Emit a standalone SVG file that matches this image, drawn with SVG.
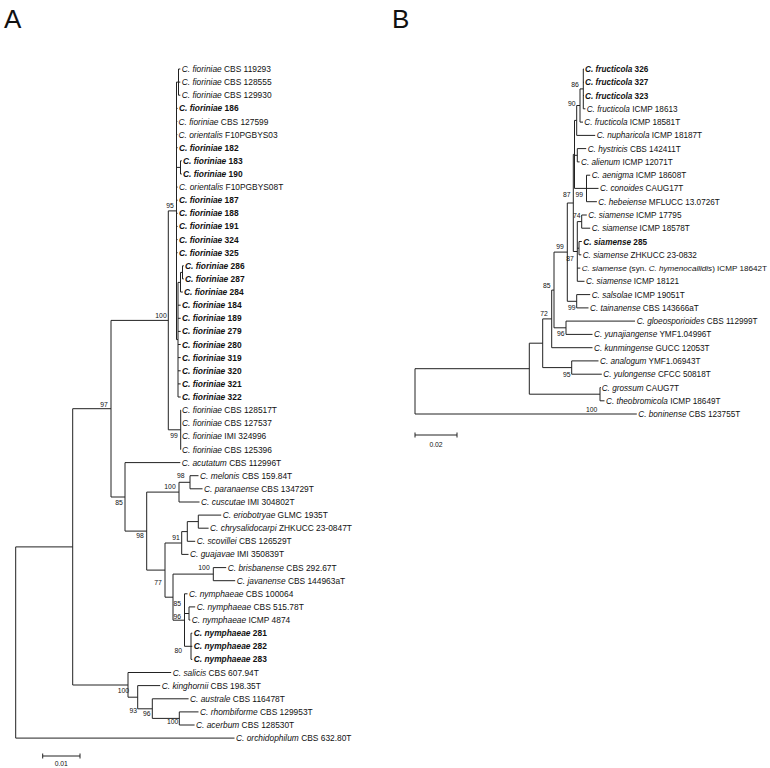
<svg xmlns="http://www.w3.org/2000/svg" width="770" height="768" viewBox="0 0 770 768">
<style>
.t{font-family:"Liberation Sans",Arial,sans-serif;font-size:8.4px;fill:#111}
#B-taxa .t{font-size:8.2px}
#B-taxa #b16 .t{font-size:8.1px}
.i{font-style:italic}
.b{font-weight:bold}
.s{font-family:"Liberation Sans",Arial,sans-serif;font-size:6.8px;fill:#111;text-anchor:middle}
.br{stroke:#222;stroke-width:1;fill:none}
.L{font-family:"Liberation Sans",Arial,sans-serif;font-size:26px;fill:#111}
</style>
<rect width="770" height="768" fill="#fff"/>
<text class="L" x="4" y="28">A</text>
<text class="L" x="392" y="28">B</text>

<g id="connectors" class="br">
<!-- Panel A -->
<path d="M15.7 546.9V738.1H234.5M15.7 546.9H72.7"/>
<path d="M72.7 408.7V685M72.7 408.7H111M72.7 685H128"/>
<path d="M111 320.4V497M111 320.4H168.3M111 497H125"/>
<path d="M168.3 210.9V429.8M168.3 210.9H176.5M168.3 429.8H180.7"/>
<path d="M176.5 82.1V339.6M176.5 82.1H178.5M176.5 108.4H177.6M176.5 121.5H177.3M176.5 134.6H177.3M176.5 147.7H177.6M176.5 167.4H180.5M176.5 187.1H177.6M176.5 200.2H177.6M176.5 213.3H177.6M176.5 226.4H177.6M176.5 239.6H177.6M176.5 252.7H177.6M176.5 339.6H178"/>
<path d="M178.5 69V95.2M178.5 69H180.3M178.5 82.1H180.3M178.5 95.2H180.3"/>
<path d="M180.5 160.8V174M180.5 160.8H181.8M180.5 174H181.8"/>
<path d="M178 282.4V397M178 282.4H180.5M178 305.2H180.7M178 318.3H180.7M178 331.4H180.7M178 344.5H180.7M178 357.6H180.7M178 370.8H180.7M178 383.9H180.7M178 397H180.7"/>
<path d="M180.5 272.4V292M180.5 272.4H182.5M180.5 292H182.8"/>
<path d="M182.5 265.8V278.9M182.5 265.8H183.8M182.5 278.9H183.8"/>
<path d="M180.7 410.1V449.5M180.7 410.1H181M180.7 449.5H181"/>
<path d="M125 462.6V531.1M125 462.6H180.3M125 531.1H146.7"/>
<path d="M146.7 492.1V570.1M146.7 492.1H179M146.7 570.1H165"/>
<path d="M179 482.3V502M179 482.3H190M179 502H199.5"/>
<path d="M190 475.7V488.8M190 475.7H198.5M190 488.8H202.5"/>
<path d="M165 543V597.2M165 543H181.7M165 597.2H173"/>
<path d="M181.7 531.6V554.4M181.7 531.6H187.3M181.7 554.4H188.5"/>
<path d="M187.3 521.6V541.3M187.3 521.6H198.3M187.3 541.3H195.2"/>
<path d="M198.3 515.1V528.2M198.3 515.1H221.2M198.3 528.2H208.6"/>
<path d="M173 574.1V620.2M173 574.1H213.3M173 620.2H184.5"/>
<path d="M213.3 567.6V580.7M213.3 567.6H226.2M213.3 580.7H235.2"/>
<path d="M184.5 593.8V646.3M184.5 593.8H187.5M184.5 613.5H189M184.5 646.3H191"/>
<path d="M189 606.9V620M189 606.9H195.2M189 620H190.3"/>
<path d="M191 633.2V659.4M191 633.2H192.3M191 646.3H192.3M191 659.4H192.3"/>
<path d="M128 672.5V697.2M128 672.5H171.2M128 697.2H137.7"/>
<path d="M137.7 685.6V708.8M137.7 685.6H160.2M137.7 708.8H152.3"/>
<path d="M152.3 698.8V718.4M152.3 698.8H188.6M152.3 718.4H179.3"/>
<path d="M179.3 711.9V725M179.3 711.9H198.5M179.3 725H194.6"/>
<path d="M42.7 756H80M42.7 753.5V758.5M80 753.5V758.5"/>
<!-- Panel B -->
<path d="M415 368.7V414H636.8M415 368.7H529.3"/>
<path d="M529.3 343.2V394.2M529.3 343.2H542.7M529.3 394.2H600"/>
<path d="M600 387.5V400.8M600 387.5H600.8M600 400.8H604.5"/>
<path d="M542.7 318.9V367.6M542.7 318.9H551.7M542.7 367.6H571.7"/>
<path d="M571.7 360.9V374.2M571.7 360.9H598.5M571.7 374.2H601.8"/>
<path d="M551.7 290.1V347.7M551.7 290.1H554M551.7 347.7H592.5"/>
<path d="M554 252.1V327.8M554 252.1H567.3M554 327.8H566"/>
<path d="M566 321.1V334.4M566 321.1H635M566 334.4H592.5"/>
<path d="M567.3 203V301.3M567.3 203H573.3M567.3 301.3H576.7"/>
<path d="M576.7 294.6V307.9M576.7 294.6H590.2M576.7 307.9H588.5"/>
<path d="M573.3 154.4V251.5M573.3 154.4H574.5M573.3 251.5H577.3"/>
<path d="M574.5 120.4V188.4M574.5 120.4H576.7M574.5 155.3H577.3M574.5 188.4H586.5"/>
<path d="M576.7 105.5V135.4M576.7 105.5H580M576.7 135.4H595.2"/>
<path d="M580 88.9V122.1M580 88.9H583.3M580 122.1H583"/>
<path d="M583.3 69V108.8M583.3 69H584M583.3 82.3H584M583.3 95.5H584M583.3 108.8H585.4"/>
<path d="M577.3 148.6V161.9M577.3 148.6H586.2M577.3 161.9H579.6"/>
<path d="M586.5 175.2V201.7M586.5 175.2H590.2M586.5 188.4H598.5M586.5 201.7H596.9"/>
<path d="M577.3 221.6V281.3M577.3 221.6H581.7M577.3 248.2H579M577.3 268.1H580.3M577.3 281.3H584.5"/>
<path d="M581.7 215V228.2M581.7 215H586.8M581.7 228.2H590.2"/>
<path d="M579 241.5V254.8M579 241.5H581.8M579 254.8H581.3"/>
<path d="M415 435H457M415 432.5V437.5M457 432.5V437.5"/>
</g>

<g id="support">
<text class="s" x="170" y="207.5">95</text>
<text class="s" x="161" y="317.5">100</text>
<text class="s" x="174" y="438">99</text>
<text class="s" x="104" y="406.5">97</text>
<text class="s" x="119" y="504.5">85</text>
<text class="s" x="170" y="489">100</text>
<text class="s" x="180.7" y="477.5">98</text>
<text class="s" x="140" y="537.5">98</text>
<text class="s" x="176" y="540">91</text>
<text class="s" x="158" y="584.5">77</text>
<text class="s" x="204" y="570">100</text>
<text class="s" x="177.3" y="605.8">85</text>
<text class="s" x="177.3" y="619.2">96</text>
<text class="s" x="178.3" y="652.5">80</text>
<text class="s" x="123.3" y="692.5">100</text>
<text class="s" x="133.3" y="713.2">93</text>
<text class="s" x="146.7" y="715.8">96</text>
<text class="s" x="172.7" y="724.2">100</text>
<text class="s" x="61.3" y="766">0.01</text>
<text class="s" x="575" y="86.5">86</text>
<text class="s" x="571.7" y="105.8">90</text>
<text class="s" x="566.7" y="196.5">87</text>
<text class="s" x="579.3" y="196.5">99</text>
<text class="s" x="576.7" y="218.2">74</text>
<text class="s" x="560" y="248.5">99</text>
<text class="s" x="570" y="260.8">87</text>
<text class="s" x="546.7" y="287.5">85</text>
<text class="s" x="571.7" y="309.8">99</text>
<text class="s" x="544" y="315.8">72</text>
<text class="s" x="560.7" y="335.8">96</text>
<text class="s" x="566.7" y="376.8">95</text>
<text class="s" x="591.7" y="411.8">100</text>
<text class="s" x="436" y="447">0.02</text>
</g>

<g id="A-taxa">
<g id="a01"><text class="t" x="181.7" y="72"><tspan class="i">C. fioriniae</tspan> CBS 119293</text></g>
<g id="a02"><text class="t" x="181.7" y="85.1"><tspan class="i">C. fioriniae</tspan> CBS 128555</text></g>
<g id="a03"><text class="t" x="181.7" y="98.2"><tspan class="i">C. fioriniae</tspan> CBS 129930</text></g>
<g id="a04"><text class="t b" x="179" y="111.4"><tspan class="i">C. fioriniae</tspan> 186</text></g>
<g id="a05"><text class="t" x="178.5" y="124.5"><tspan class="i">C. fioriniae</tspan> CBS 127599</text></g>
<g id="a06"><text class="t" x="178.5" y="137.6"><tspan class="i">C. orientalis</tspan> F10PGBYS03</text></g>
<g id="a07"><text class="t b" x="179" y="150.7"><tspan class="i">C. fioriniae</tspan> 182</text></g>
<g id="a08"><text class="t b" x="183" y="163.8"><tspan class="i">C. fioriniae</tspan> 183</text></g>
<g id="a09"><text class="t b" x="183" y="177"><tspan class="i">C. fioriniae</tspan> 190</text></g>
<g id="a10"><text class="t" x="179" y="190.1"><tspan class="i">C. orientalis</tspan> F10PGBYS08T</text></g>
<g id="a11"><text class="t b" x="179" y="203.2"><tspan class="i">C. fioriniae</tspan> 187</text></g>
<g id="a12"><text class="t b" x="179" y="216.3"><tspan class="i">C. fioriniae</tspan> 188</text></g>
<g id="a13"><text class="t b" x="179" y="229.4"><tspan class="i">C. fioriniae</tspan> 191</text></g>
<g id="a14"><text class="t b" x="179" y="242.6"><tspan class="i">C. fioriniae</tspan> 324</text></g>
<g id="a15"><text class="t b" x="179" y="255.7"><tspan class="i">C. fioriniae</tspan> 325</text></g>
<g id="a16"><text class="t b" x="185" y="268.8"><tspan class="i">C. fioriniae</tspan> 286</text></g>
<g id="a17"><text class="t b" x="185" y="281.9"><tspan class="i">C. fioriniae</tspan> 287</text></g>
<g id="a18"><text class="t b" x="184" y="295"><tspan class="i">C. fioriniae</tspan> 284</text></g>
<g id="a19"><text class="t b" x="182" y="308.2"><tspan class="i">C. fioriniae</tspan> 184</text></g>
<g id="a20"><text class="t b" x="182" y="321.3"><tspan class="i">C. fioriniae</tspan> 189</text></g>
<g id="a21"><text class="t b" x="182" y="334.4"><tspan class="i">C. fioriniae</tspan> 279</text></g>
<g id="a22"><text class="t b" x="182" y="347.5"><tspan class="i">C. fioriniae</tspan> 280</text></g>
<g id="a23"><text class="t b" x="182" y="360.6"><tspan class="i">C. fioriniae</tspan> 319</text></g>
<g id="a24"><text class="t b" x="182" y="373.8"><tspan class="i">C. fioriniae</tspan> 320</text></g>
<g id="a25"><text class="t b" x="182" y="386.9"><tspan class="i">C. fioriniae</tspan> 321</text></g>
<g id="a26"><text class="t b" x="182" y="400"><tspan class="i">C. fioriniae</tspan> 322</text></g>
<g id="a27"><text class="t" x="182" y="413.1"><tspan class="i">C. fioriniae</tspan> CBS 128517T</text></g>
<g id="a28"><text class="t" x="182" y="426.2"><tspan class="i">C. fioriniae</tspan> CBS 127537</text></g>
<g id="a29"><text class="t" x="182" y="439.4"><tspan class="i">C. fioriniae</tspan> IMI 324996</text></g>
<g id="a30"><text class="t" x="182" y="452.5"><tspan class="i">C. fioriniae</tspan> CBS 125396</text></g>
<g id="a31"><text class="t" x="181.7" y="465.6"><tspan class="i">C. acutatum</tspan> CBS 112996T</text></g>
<g id="a32"><text class="t" x="200" y="478.7"><tspan class="i">C. melonis</tspan> CBS 159.84T</text></g>
<g id="a33"><text class="t" x="204" y="491.8"><tspan class="i">C. paranaense</tspan> CBS 134729T</text></g>
<g id="a34"><text class="t" x="201" y="505"><tspan class="i">C. cuscutae</tspan> IMI 304802T</text></g>
<g id="a35"><text class="t" x="222.7" y="518.1"><tspan class="i">C. eriobotryae</tspan> GLMC 1935T</text></g>
<g id="a36"><text class="t" x="210" y="531.2"><tspan class="i">C. chrysalidocarpi</tspan> ZHKUCC 23-0847T</text></g>
<g id="a37"><text class="t" x="196.7" y="544.3"><tspan class="i">C. scovillei</tspan> CBS 126529T</text></g>
<g id="a38"><text class="t" x="190" y="557.4"><tspan class="i">C. guajavae</tspan> IMI 350839T</text></g>
<g id="a39"><text class="t" x="227.7" y="570.6"><tspan class="i">C. brisbanense</tspan> CBS 292.67T</text></g>
<g id="a40"><text class="t" x="236.7" y="583.7"><tspan class="i">C. javanense</tspan> CBS 144963aT</text></g>
<g id="a41"><text class="t" x="189" y="596.8"><tspan class="i">C. nymphaeae</tspan> CBS 100064</text></g>
<g id="a42"><text class="t" x="196.7" y="609.9"><tspan class="i">C. nymphaeae</tspan> CBS 515.78T</text></g>
<g id="a43"><text class="t" x="191.7" y="623"><tspan class="i">C. nymphaeae</tspan> ICMP 4874</text></g>
<g id="a44"><text class="t b" x="193.7" y="636.2"><tspan class="i">C. nymphaeae</tspan> 281</text></g>
<g id="a45"><text class="t b" x="193.7" y="649.3"><tspan class="i">C. nymphaeae</tspan> 282</text></g>
<g id="a46"><text class="t b" x="193.7" y="662.4"><tspan class="i">C. nymphaeae</tspan> 283</text></g>
<g id="a47"><text class="t" x="172.7" y="675.5"><tspan class="i">C. salicis</tspan> CBS 607.94T</text></g>
<g id="a48"><text class="t" x="161.7" y="688.6"><tspan class="i">C. kinghornii</tspan> CBS 198.35T</text></g>
<g id="a49"><text class="t" x="190" y="701.8"><tspan class="i">C. australe</tspan> CBS 116478T</text></g>
<g id="a50"><text class="t" x="200" y="714.9"><tspan class="i">C. rhombiforme</tspan> CBS 129953T</text></g>
<g id="a51"><text class="t" x="196" y="728"><tspan class="i">C. acerbum</tspan> CBS 128530T</text></g>
<g id="a52"><text class="t" x="236" y="741.1"><tspan class="i">C. orchidophilum</tspan> CBS 632.80T</text></g>
</g>

<g id="B-taxa">
<g id="b01"><text class="t b" x="585" y="72"><tspan class="i">C. fructicola</tspan> 326</text></g>
<g id="b02"><text class="t b" x="585" y="85.3"><tspan class="i">C. fructicola</tspan> 327</text></g>
<g id="b03"><text class="t b" x="585" y="98.5"><tspan class="i">C. fructicola</tspan> 323</text></g>
<g id="b04"><text class="t" x="586.7" y="111.8"><tspan class="i">C. fructicola</tspan> ICMP 18613</text></g>
<g id="b05"><text class="t" x="584.3" y="125.1"><tspan class="i">C. fructicola</tspan> ICMP 18581T</text></g>
<g id="b06"><text class="t" x="596.7" y="138.4"><tspan class="i">C. nupharicola</tspan> ICMP 18187T</text></g>
<g id="b07"><text class="t" x="587.7" y="151.6"><tspan class="i">C. hystricis</tspan> CBS 142411T</text></g>
<g id="b08"><text class="t" x="581" y="164.9"><tspan class="i">C. alienum</tspan> ICMP 12071T</text></g>
<g id="b09"><text class="t" x="591.7" y="178.2"><tspan class="i">C. aenigma</tspan> ICMP 18608T</text></g>
<g id="b10"><text class="t" x="600" y="191.4"><tspan class="i">C. conoides</tspan> CAUG17T</text></g>
<g id="b11"><text class="t" x="598.3" y="204.7"><tspan class="i">C. hebeiense</tspan> MFLUCC 13.0726T</text></g>
<g id="b12"><text class="t" x="588.3" y="218"><tspan class="i">C. siamense</tspan> ICMP 17795</text></g>
<g id="b13"><text class="t" x="591.7" y="231.2"><tspan class="i">C. siamense</tspan> ICMP 18578T</text></g>
<g id="b14"><text class="t b" x="583.3" y="244.5"><tspan class="i">C. siamense</tspan> 285</text></g>
<g id="b15"><text class="t" x="582.7" y="257.8"><tspan class="i">C. siamense</tspan> ZHKUCC 23-0832</text></g>
<g id="b16"><text class="t" x="581.7" y="271.1"><tspan class="i">C. siamense</tspan> (syn. <tspan class="i">C. hymenocallidis</tspan>) ICMP 18642T</text></g>
<g id="b17"><text class="t" x="586" y="284.3"><tspan class="i">C. siamense</tspan> ICMP 18121</text></g>
<g id="b18"><text class="t" x="591.7" y="297.6"><tspan class="i">C. salsolae</tspan> ICMP 19051T</text></g>
<g id="b19"><text class="t" x="590" y="310.9"><tspan class="i">C. tainanense</tspan> CBS 143666aT</text></g>
<g id="b20"><text class="t" x="636.7" y="324.1"><tspan class="i">C. gloeosporioides</tspan> CBS 112999T</text></g>
<g id="b21"><text class="t" x="594" y="337.4"><tspan class="i">C. yunajiangense</tspan> YMF1.04996T</text></g>
<g id="b22"><text class="t" x="594" y="350.7"><tspan class="i">C. kunmingense</tspan> GUCC 12053T</text></g>
<g id="b23"><text class="t" x="600" y="363.9"><tspan class="i">C. analogum</tspan> YMF1.06943T</text></g>
<g id="b24"><text class="t" x="603.3" y="377.2"><tspan class="i">C. yulongense</tspan> CFCC 50818T</text></g>
<g id="b25"><text class="t" x="601.7" y="390.5"><tspan class="i">C. grossum</tspan> CAUG7T</text></g>
<g id="b26"><text class="t" x="606" y="403.8"><tspan class="i">C. theobromicola</tspan> ICMP 18649T</text></g>
<g id="b27"><text class="t" x="638.3" y="417"><tspan class="i">C. boninense</tspan> CBS 123755T</text></g>
</g>
</svg>
